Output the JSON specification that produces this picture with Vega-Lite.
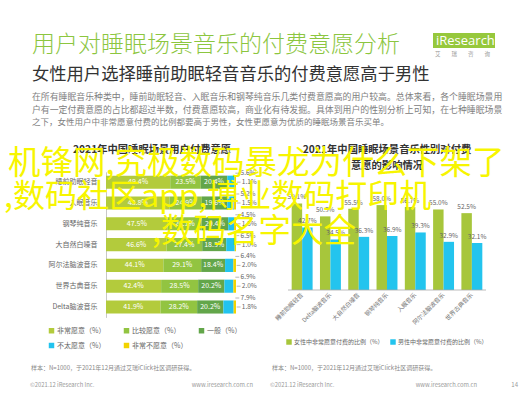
{
  "$schema": "https://vega.github.io/schema/vega-lite/v6.json",
  "width": 524,
  "height": 393,
  "autosize": {"type": "none"},
  "padding": 0,
  "background": "#ffffff",
  "config": {
    "view": {"stroke": null},
    "font": "Noto Sans CJK SC",
    "text": {"font": "Noto Sans CJK SC"},
    "legend": {"labelFont": "Noto Sans CJK SC"},
    "axis": {"labelFont": "Noto Sans CJK SC"}
  },
  "datasets": {
    "left": [
      {"cat": "睡前助眠轻音", "level": "非常愿意", "rank": 1, "pct": 0.494},
      {"cat": "睡前助眠轻音", "level": "比较愿意", "rank": 2, "pct": 0.235},
      {"cat": "睡前助眠轻音", "level": "一般", "rank": 3, "pct": 0.204},
      {"cat": "睡前助眠轻音", "level": "不太愿意", "rank": 4, "pct": 0.056},
      {"cat": "睡前助眠轻音", "level": "非常不愿意", "rank": 5, "pct": 0.011},
      {"cat": "入眠音乐", "level": "非常愿意", "rank": 1, "pct": 0.488},
      {"cat": "入眠音乐", "level": "比较愿意", "rank": 2, "pct": 0.249},
      {"cat": "入眠音乐", "level": "一般", "rank": 3, "pct": 0.196},
      {"cat": "入眠音乐", "level": "不太愿意", "rank": 4, "pct": 0.052},
      {"cat": "入眠音乐", "level": "非常不愿意", "rank": 5, "pct": 0.015},
      {"cat": "钢琴纯音乐", "level": "非常愿意", "rank": 1, "pct": 0.475},
      {"cat": "钢琴纯音乐", "level": "比较愿意", "rank": 2, "pct": 0.261},
      {"cat": "钢琴纯音乐", "level": "一般", "rank": 3, "pct": 0.204},
      {"cat": "钢琴纯音乐", "level": "不太愿意", "rank": 4, "pct": 0.045},
      {"cat": "钢琴纯音乐", "level": "非常不愿意", "rank": 5, "pct": 0.015},
      {"cat": "大自然白噪音", "level": "非常愿意", "rank": 1, "pct": 0.466},
      {"cat": "大自然白噪音", "level": "比较愿意", "rank": 2, "pct": 0.274},
      {"cat": "大自然白噪音", "level": "一般", "rank": 3, "pct": 0.185},
      {"cat": "大自然白噪音", "level": "不太愿意", "rank": 4, "pct": 0.065},
      {"cat": "大自然白噪音", "level": "非常不愿意", "rank": 5, "pct": 0.010},
      {"cat": "阿尔法脑波音乐", "level": "非常愿意", "rank": 1, "pct": 0.441},
      {"cat": "阿尔法脑波音乐", "level": "比较愿意", "rank": 2, "pct": 0.291},
      {"cat": "阿尔法脑波音乐", "level": "一般", "rank": 3, "pct": 0.184},
      {"cat": "阿尔法脑波音乐", "level": "不太愿意", "rank": 4, "pct": 0.064},
      {"cat": "阿尔法脑波音乐", "level": "非常不愿意", "rank": 5, "pct": 0.020},
      {"cat": "世界古典音乐", "level": "非常愿意", "rank": 1, "pct": 0.424},
      {"cat": "世界古典音乐", "level": "比较愿意", "rank": 2, "pct": 0.285},
      {"cat": "世界古典音乐", "level": "一般", "rank": 3, "pct": 0.202},
      {"cat": "世界古典音乐", "level": "不太愿意", "rank": 4, "pct": 0.069},
      {"cat": "世界古典音乐", "level": "非常不愿意", "rank": 5, "pct": 0.020},
      {"cat": "Delta脑波音乐", "level": "非常愿意", "rank": 1, "pct": 0.419},
      {"cat": "Delta脑波音乐", "level": "比较愿意", "rank": 2, "pct": 0.282},
      {"cat": "Delta脑波音乐", "level": "一般", "rank": 3, "pct": 0.202},
      {"cat": "Delta脑波音乐", "level": "不太愿意", "rank": 4, "pct": 0.079},
      {"cat": "Delta脑波音乐", "level": "非常不愿意", "rank": 5, "pct": 0.018}
    ],
    "right": [
      {"cat": "睡前助眠轻音", "sex": "女性中非常愿意付费的比例", "pct": 0.591},
      {"cat": "睡前助眠轻音", "sex": "男性中非常愿意付费的比例", "pct": 0.427},
      {"cat": "Delta脑波音乐", "sex": "女性中非常愿意付费的比例", "pct": 0.503},
      {"cat": "Delta脑波音乐", "sex": "男性中非常愿意付费的比例", "pct": 0.345},
      {"cat": "大自然白噪音", "sex": "女性中非常愿意付费的比例", "pct": 0.555},
      {"cat": "大自然白噪音", "sex": "男性中非常愿意付费的比例", "pct": 0.363},
      {"cat": "钢琴纯音乐", "sex": "女性中非常愿意付费的比例", "pct": 0.580},
      {"cat": "钢琴纯音乐", "sex": "男性中非常愿意付费的比例", "pct": 0.369},
      {"cat": "入眠音乐", "sex": "女性中非常愿意付费的比例", "pct": 0.567},
      {"cat": "入眠音乐", "sex": "男性中非常愿意付费的比例", "pct": 0.393},
      {"cat": "阿尔法脑波音乐", "sex": "女性中非常愿意付费的比例", "pct": 0.550},
      {"cat": "阿尔法脑波音乐", "sex": "男性中非常愿意付费的比例", "pct": 0.329},
      {"cat": "世界古典音乐", "sex": "女性中非常愿意付费的比例", "pct": 0.525},
      {"cat": "世界古典音乐", "sex": "男性中非常愿意付费的比例", "pct": 0.321}
    ]
  },
  "layer": [
    {
      "data": {"name": "left"},
      "layer": [
        {
          "mark": {"type": "bar"},
          "encoding": {
            "y": {"field": "cat", "type": "nominal", "scale": {"domain": ["睡前助眠轻音","入眠音乐","钢琴纯音乐","大自然白噪音","阿尔法脑波音乐","世界古典音乐","Delta脑波音乐"], "range": [171.8, 317.4], "paddingInner": 0.37, "paddingOuter": 0.185}, "axis": {"orient": "left", "offset": -106, "title": null, "ticks": false, "grid": false, "labelPadding": 9, "labelFontSize": 7, "labelColor": "#666666", "domainColor": "#c8c8c8", "domainWidth": 1}},
            "x": {"field": "pct", "type": "quantitative", "stack": "zero", "scale": {"domain": [0, 1], "range": [106, 236], "nice": false, "zero": true}, "axis": null},
            "color": {"field": "level", "type": "nominal", "scale": {"domain": ["非常愿意","比较愿意","一般","不太愿意","非常不愿意"], "range": ["#b3cb3c","#92c441","#63a64a","#22c3ee","#f2d300"]}, "legend": {"orient": "none", "legendX": 48, "legendY": 327, "direction": "horizontal", "columns": 3, "gridAlign": "all", "columnPadding": 10, "rowPadding": 7, "title": null, "symbolType": "square", "symbolSize": 30, "symbolStrokeWidth": 0, "labelFontSize": 7, "labelColor": "#666666", "labelOffset": 2, "labelExpr": "datum.label + '（%）'"}},
            "order": {"field": "rank", "type": "quantitative", "sort": "ascending"}
          }
        },
        {
          "transform": [
            {"stack": "pct", "groupby": ["cat"], "sort": [{"field": "rank", "order": "ascending"}], "as": ["s0", "s1"]},
            {"filter": "datum.rank <= 3"},
            {"fold": ["s0", "s1"], "as": ["edge", "pos"]}
          ],
          "mark": {"type": "text", "fontSize": 7, "color": "#ffffff", "baseline": "middle"},
          "encoding": {
            "y": {"field": "cat", "type": "nominal", "scale": {"domain": ["睡前助眠轻音","入眠音乐","钢琴纯音乐","大自然白噪音","阿尔法脑波音乐","世界古典音乐","Delta脑波音乐"], "range": [171.8, 317.4], "paddingInner": 0.37, "paddingOuter": 0.185}, "axis": {"orient": "left", "offset": -106, "title": null, "ticks": false, "grid": false, "labelPadding": 9, "labelFontSize": 7, "labelColor": "#666666", "domainColor": "#c8c8c8", "domainWidth": 1}},
            "x": {"field": "pos", "type": "quantitative", "aggregate": "mean", "scale": {"domain": [0, 1], "range": [106, 236], "nice": false, "zero": true}, "axis": null},
            "text": {"field": "pct", "type": "quantitative", "format": ".1%"}
          }
        },
        {
          "transform": [{"filter": "datum.rank == 5"}],
          "mark": {"type": "rule", "color": "#999999", "strokeWidth": 0.7},
          "encoding": {
            "y": {"field": "cat", "type": "nominal", "scale": {"domain": ["睡前助眠轻音","入眠音乐","钢琴纯音乐","大自然白噪音","阿尔法脑波音乐","世界古典音乐","Delta脑波音乐"], "range": [171.8, 317.4], "paddingInner": 0.37, "paddingOuter": 0.185}, "axis": {"orient": "left", "offset": -106, "title": null, "ticks": false, "grid": false, "labelPadding": 9, "labelFontSize": 7, "labelColor": "#666666", "domainColor": "#c8c8c8", "domainWidth": 1}},
            "x": {"datum": 1.005, "type": "quantitative", "scale": {"domain": [0, 1], "range": [106, 236], "nice": false, "zero": true}, "axis": null},
            "x2": {"datum": 1.035}
          }
        },
        {
          "transform": [{"filter": "datum.rank == 5"}],
          "mark": {"type": "text", "fontSize": 6.5, "color": "#666666", "align": "left", "baseline": "middle"},
          "encoding": {
            "y": {"field": "cat", "type": "nominal", "scale": {"domain": ["睡前助眠轻音","入眠音乐","钢琴纯音乐","大自然白噪音","阿尔法脑波音乐","世界古典音乐","Delta脑波音乐"], "range": [171.8, 317.4], "paddingInner": 0.37, "paddingOuter": 0.185}, "axis": {"orient": "left", "offset": -106, "title": null, "ticks": false, "grid": false, "labelPadding": 9, "labelFontSize": 7, "labelColor": "#666666", "domainColor": "#c8c8c8", "domainWidth": 1}},
            "x": {"datum": 1.045, "type": "quantitative", "scale": {"domain": [0, 1], "range": [106, 236], "nice": false, "zero": true}, "axis": null},
            "text": {"field": "pct", "type": "quantitative", "format": ".1%"}
          }
        },
        {
          "transform": [{"filter": "datum.rank == 4"}],
          "mark": {"type": "rule", "color": "#999999", "strokeWidth": 0.7, "yOffset": -9},
          "encoding": {
            "y": {"field": "cat", "type": "nominal", "scale": {"domain": ["睡前助眠轻音","入眠音乐","钢琴纯音乐","大自然白噪音","阿尔法脑波音乐","世界古典音乐","Delta脑波音乐"], "range": [171.8, 317.4], "paddingInner": 0.37, "paddingOuter": 0.185}, "axis": {"orient": "left", "offset": -106, "title": null, "ticks": false, "grid": false, "labelPadding": 9, "labelFontSize": 7, "labelColor": "#666666", "domainColor": "#c8c8c8", "domainWidth": 1}},
            "x": {"datum": 0.995, "type": "quantitative", "scale": {"domain": [0, 1], "range": [106, 236], "nice": false, "zero": true}, "axis": null},
            "x2": {"datum": 1.025}
          }
        },
        {
          "transform": [{"filter": "datum.rank == 4"}],
          "mark": {"type": "text", "fontSize": 6.5, "color": "#666666", "align": "left", "baseline": "middle", "dy": -9},
          "encoding": {
            "y": {"field": "cat", "type": "nominal", "scale": {"domain": ["睡前助眠轻音","入眠音乐","钢琴纯音乐","大自然白噪音","阿尔法脑波音乐","世界古典音乐","Delta脑波音乐"], "range": [171.8, 317.4], "paddingInner": 0.37, "paddingOuter": 0.185}, "axis": {"orient": "left", "offset": -106, "title": null, "ticks": false, "grid": false, "labelPadding": 9, "labelFontSize": 7, "labelColor": "#666666", "domainColor": "#c8c8c8", "domainWidth": 1}},
            "x": {"datum": 1.035, "type": "quantitative", "scale": {"domain": [0, 1], "range": [106, 236], "nice": false, "zero": true}, "axis": null},
            "text": {"field": "pct", "type": "quantitative", "format": ".1%"}
          }
        }
      ]
    },
    {
      "data": {"name": "right"},
      "layer": [
        {
          "mark": {"type": "bar"},
          "encoding": {
            "x": {"field": "cat", "type": "nominal", "scale": {"domain": ["睡前助眠轻音","Delta脑波音乐","大自然白噪音","钢琴纯音乐","入眠音乐","阿尔法脑波音乐","世界古典音乐"], "range": [288, 486], "paddingInner": 0.26, "paddingOuter": 0.13}, "axis": null},
            "xOffset": {"field": "sex", "type": "nominal", "scale": {"domain": ["女性中非常愿意付费的比例","男性中非常愿意付费的比例"], "paddingInner": 0, "paddingOuter": 0}},
            "y": {"field": "pct", "type": "quantitative", "scale": {"domain": [0, 1], "range": [290, 143.6], "nice": false, "zero": true}, "axis": null},
            "color": {"field": "sex", "type": "nominal", "scale": {"domain": ["女性中非常愿意付费的比例","男性中非常愿意付费的比例"], "range": ["#a7c63b","#23c4ee"]}, "legend": {"orient": "none", "legendX": 286, "legendY": 339, "direction": "horizontal", "title": null, "symbolType": "square", "symbolSize": 30, "symbolStrokeWidth": 0, "labelFontSize": 6, "labelColor": "#666666", "labelOffset": 2, "columnPadding": 6, "labelExpr": "datum.label + '（%）'"}}
          }
        },
        {
          "mark": {"type": "text", "fontSize": 6.5, "color": "#666666", "dy": -6},
          "encoding": {
            "x": {"field": "cat", "type": "nominal", "scale": {"domain": ["睡前助眠轻音","Delta脑波音乐","大自然白噪音","钢琴纯音乐","入眠音乐","阿尔法脑波音乐","世界古典音乐"], "range": [288, 486], "paddingInner": 0.26, "paddingOuter": 0.13}, "axis": null},
            "xOffset": {"field": "sex", "type": "nominal", "scale": {"domain": ["女性中非常愿意付费的比例","男性中非常愿意付费的比例"], "paddingInner": 0, "paddingOuter": 0}},
            "y": {"field": "pct", "type": "quantitative", "scale": {"domain": [0, 1], "range": [290, 143.6], "nice": false, "zero": true}, "axis": null},
            "text": {"field": "pct", "type": "quantitative", "format": ".1%"}
          }
        },
        {
          "transform": [{"filter": "datum.sex == '女性中非常愿意付费的比例'"}],
          "mark": {"type": "text", "fontSize": 6, "color": "#777777", "angle": 315, "align": "right", "baseline": "middle", "yOffset": 4},
          "encoding": {
            "x": {"field": "cat", "type": "nominal", "scale": {"domain": ["睡前助眠轻音","Delta脑波音乐","大自然白噪音","钢琴纯音乐","入眠音乐","阿尔法脑波音乐","世界古典音乐"], "range": [288, 486], "paddingInner": 0.26, "paddingOuter": 0.13}, "axis": null},
            "y": {"datum": 0, "type": "quantitative", "scale": {"domain": [0, 1], "range": [290, 143.6], "nice": false, "zero": true}, "axis": null},
            "text": {"field": "cat", "type": "nominal"}
          }
        },
        {
          "data": {"values": [{}]},
          "mark": {"type": "rule", "x": 288, "x2": 486, "color": "#aaaaaa", "strokeWidth": 0.8},
          "encoding": {
            "y": {"datum": 0, "type": "quantitative", "scale": {"domain": [0, 1], "range": [290, 143.6], "nice": false, "zero": true}, "axis": null}
          }
        }
      ]
    },
    {"data": {"values": [{}]}, "mark": {"type": "text", "x": 32, "y": 45, "align": "left", "baseline": "middle", "fontSize": 23, "fontWeight": 300, "color": "#8cc63f", "text": "用户对睡眠场景音乐的付费意愿分析"}, "encoding": {}},
    {"data": {"values": [{}]}, "mark": {"type": "text", "x": 32, "y": 75, "align": "left", "baseline": "middle", "fontSize": 17.3, "color": "#333333", "text": "女性用户选择睡前助眠轻音音乐的付费意愿高于男性"}, "encoding": {}},
    {"data": {"values": [{}]}, "mark": {"type": "text", "x": 32, "y": 97, "align": "left", "baseline": "middle", "fontSize": 8.9, "color": "#808080", "text": "在所有睡眠音乐种类中，睡前助眠轻音、入眠音乐和钢琴纯音乐几类付费意愿高的用户较高。总体来看，各个睡眠场景用"}, "encoding": {}},
    {"data": {"values": [{}]}, "mark": {"type": "text", "x": 32, "y": 109.5, "align": "left", "baseline": "middle", "fontSize": 8.9, "color": "#808080", "text": "户有一定付费意愿的占比都超过半数，付费意愿较高，商业化有待发掘。具体到用户的性别分析上可知，在七种睡眠场景"}, "encoding": {}},
    {"data": {"values": [{}]}, "mark": {"type": "text", "x": 32, "y": 122, "align": "left", "baseline": "middle", "fontSize": 8.5, "color": "#808080", "text": "之下，女性用户中非常愿意付费的比例都要高于男性，女性更愿意为优质的睡眠场景音乐买单。"}, "encoding": {}},
    {"data": {"values": [{}]}, "mark": {"type": "rect", "x": 433, "x2": 495, "y": 33, "y2": 48, "color": "#96c83c"}, "encoding": {}},
    {"data": {"values": [{}]}, "mark": {"type": "text", "x": 436, "y": 41, "align": "left", "baseline": "middle", "fontSize": 13, "font": "Open Sans", "color": "#ffffff", "text": "iResearch"}, "encoding": {}},
    {"data": {"values": [{}]}, "mark": {"type": "text", "x": 435, "y": 54, "align": "left", "baseline": "middle", "fontSize": 5.5, "color": "#999999", "text": "艾　　瑞　　咨　　询"}, "encoding": {}},
    {"data": {"values": [{}]}, "mark": {"type": "text", "x": 152, "y": 150, "align": "center", "baseline": "middle", "fontSize": 10.3, "fontWeight": "bold", "color": "#333333", "text": "2021年中国睡眠场景用户付费意愿"}, "encoding": {}},
    {"data": {"values": [{}]}, "mark": {"type": "text", "x": 387, "y": 150, "align": "center", "baseline": "middle", "fontSize": 10.3, "fontWeight": "bold", "color": "#333333", "text": "2021年中国睡眠场景音乐性别对付费"}, "encoding": {}},
    {"data": {"values": [{}]}, "mark": {"type": "text", "x": 387, "y": 166, "align": "center", "baseline": "middle", "fontSize": 10.3, "fontWeight": "bold", "color": "#333333", "text": "意愿的影响情况"}, "encoding": {}},
    {"data": {"values": [{}]}, "mark": {"type": "text", "x": 31, "y": 368, "align": "left", "baseline": "middle", "fontSize": 6, "color": "#888888", "text": "样本：N=1000，于2021年12月通过艾瑞iClick社区调研获得。"}, "encoding": {}},
    {"data": {"values": [{}]}, "mark": {"type": "text", "x": 272, "y": 368, "align": "left", "baseline": "middle", "fontSize": 6, "color": "#888888", "text": "样本：N=1000，于2021年12月通过艾瑞iClick社区调研获得。"}, "encoding": {}},
    {"data": {"values": [{}]}, "mark": {"type": "rule", "x": 30, "x2": 255, "y": 377, "color": "#e3e3e3", "strokeWidth": 0.8}, "encoding": {}},
    {"data": {"values": [{}]}, "mark": {"type": "rule", "x": 270, "x2": 510, "y": 377, "color": "#e3e3e3", "strokeWidth": 0.8}, "encoding": {}},
    {"data": {"values": [{}]}, "mark": {"type": "text", "x": 30, "y": 385, "align": "left", "baseline": "middle", "fontSize": 5.8, "color": "#999999", "text": "©2021.12 iResearch Inc."}, "encoding": {}},
    {"data": {"values": [{}]}, "mark": {"type": "text", "x": 253, "y": 385, "align": "right", "baseline": "middle", "fontSize": 5.8, "color": "#999999", "text": "www.iresearch.com.cn"}, "encoding": {}},
    {"data": {"values": [{}]}, "mark": {"type": "text", "x": 270, "y": 385, "align": "left", "baseline": "middle", "fontSize": 5.8, "color": "#999999", "text": "©2021.12 iResearch Inc."}, "encoding": {}},
    {"data": {"values": [{}]}, "mark": {"type": "text", "x": 477, "y": 385, "align": "right", "baseline": "middle", "fontSize": 5.8, "color": "#999999", "text": "www.iresearch.com.cn"}, "encoding": {}},
    {"data": {"values": [{}]}, "mark": {"type": "text", "x": 518, "y": 385, "align": "right", "baseline": "middle", "fontSize": 6, "color": "#999999", "text": "14"}, "encoding": {}},
    {"data": {"values": [{}]}, "mark": {"type": "text", "x": 8, "y": 164, "align": "left", "baseline": "middle", "fontSize": 32.5, "color": "#f7f500", "text": "机锋网,究极数码暴龙为什么下架了"}, "encoding": {}},
    {"data": {"values": [{}]}, "mark": {"type": "text", "x": 4, "y": 197, "align": "left", "baseline": "middle", "fontSize": 32, "color": "#f7f500", "text": ",数码社区app,博业数码打印机"}, "encoding": {}},
    {"data": {"values": [{}]}, "mark": {"type": "text", "x": 152, "y": 232, "align": "left", "baseline": "middle", "fontSize": 32.5, "color": "#f7f500", "text": ",数码名字大全"}, "encoding": {}}
  ],
  "resolve": {
    "scale": {"x": "independent", "y": "independent", "color": "independent", "xOffset": "independent"},
    "axis": {"x": "independent", "y": "independent"},
    "legend": {"color": "independent"}
  }
}
